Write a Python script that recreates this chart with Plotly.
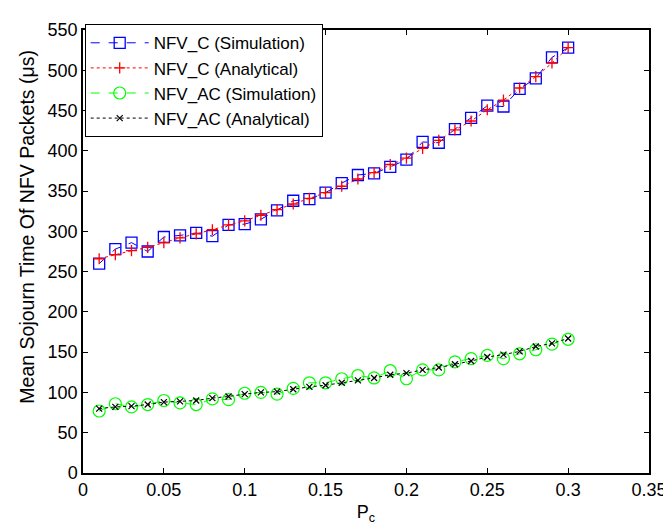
import plotly.graph_objects as go

pc = [0.01, 0.02, 0.03, 0.04, 0.05, 0.06, 0.07, 0.08, 0.09, 0.10,
      0.11, 0.12, 0.13, 0.14, 0.15, 0.16, 0.17, 0.18, 0.19, 0.20,
      0.21, 0.22, 0.23, 0.24, 0.25, 0.26, 0.27, 0.28, 0.29, 0.30]

nfv_c_sim = [260, 278, 286, 275, 293, 295, 298, 294, 308, 309,
             315, 326, 338, 340, 348, 360, 370, 372, 380, 389,
             411, 410, 427, 441, 456, 455, 477, 490, 516, 528]

nfv_c_ana = [266, 271, 276, 280, 286, 292, 297, 302, 308, 313,
             320, 327, 334, 341, 348, 356, 365, 373, 383, 391,
             403, 413, 426, 437, 451, 463, 478, 492, 509, 528]

nfv_ac_sim = [77, 86, 82, 85, 90, 87, 85, 92, 91, 99,
              100, 98, 105, 112, 112, 117, 121, 118, 127, 117,
              128, 128, 138, 142, 146, 142, 148, 153, 160, 166]

nfv_ac_ana = [80, 82, 83, 85, 88, 89, 90, 93, 95, 98,
              100, 101, 104, 107, 109, 112, 115, 118, 122, 124,
              128, 131, 135, 139, 144, 147, 151, 157, 161, 167]

x_ticks = [0, 0.05, 0.1, 0.15, 0.2, 0.25, 0.3, 0.35]
x_tick_labels = ["0", "0.05", "0.1", "0.15", "0.2", "0.25", "0.3", "0.35"]
y_ticks = [0, 50, 100, 150, 200, 250, 300, 350, 400, 450, 500, 550]

FONT = "Liberation Sans, Arial, Helvetica, sans-serif"

fig = go.Figure()
fig.add_trace(go.Scatter(
    x=pc, y=nfv_c_sim, name="NFV_C (Simulation)", mode="lines+markers",
    line=dict(color="#0000FF", width=1, dash="dash"),
    marker=dict(symbol="square-open", size=11, color="#0000FF",
                line=dict(width=1.3, color="#0000FF"))))
fig.add_trace(go.Scatter(
    x=pc, y=nfv_c_ana, name="NFV_C (Analytical)", mode="lines+markers",
    line=dict(color="#FF0000", width=1, dash="dot"),
    marker=dict(symbol="cross-thin-open", size=8,
                line=dict(width=1.3, color="#FF0000"))))
fig.add_trace(go.Scatter(
    x=pc, y=nfv_ac_sim, name="NFV_AC (Simulation)", mode="lines+markers",
    line=dict(color="#00FF00", width=1, dash="dash"),
    marker=dict(symbol="circle-open", size=12, color="#00FF00",
                line=dict(width=1.2, color="#00FF00"))))
fig.add_trace(go.Scatter(
    x=pc, y=nfv_ac_ana, name="NFV_AC (Analytical)", mode="lines+markers",
    line=dict(color="#000000", width=1, dash="dot"),
    marker=dict(symbol="x-thin-open", size=6,
                line=dict(width=1.2, color="#000000"))))

axis_common = dict(
    showline=True, linecolor="black", linewidth=1.5, mirror="ticks",
    ticks="inside", ticklen=5, tickwidth=1, tickcolor="black",
    showgrid=False, zeroline=False,
    tickfont=dict(family=FONT, size=18, color="black"),
)

fig.update_layout(
    width=671, height=523,
    margin=dict(l=75, r=18, t=17, b=50),
    paper_bgcolor="white", plot_bgcolor="white",
    font=dict(family=FONT, size=18, color="black"),
    showlegend=True,
    legend=dict(x=0.003, y=1.013, xanchor="left", yanchor="top",
                bordercolor="black", borderwidth=1, bgcolor="white",
                font=dict(family=FONT, size=17, color="black"),
                itemwidth=58, tracegroupgap=0),
    xaxis=dict(range=[0, 0.35], tickvals=x_ticks, ticktext=x_tick_labels,
               title=dict(text="P<sub>c</sub>", standoff=6,
                          font=dict(family=FONT, size=18)),
               **axis_common),
    yaxis=dict(range=[0, 550], tickvals=y_ticks, **axis_common),
    annotations=[dict(text="Mean Sojourn Time Of NFV Packets (\u03bcs)",
                      textangle=-90, xref="paper", yref="paper",
                      x=-0.098, y=0.555, xanchor="center", yanchor="middle",
                      showarrow=False,
                      font=dict(family=FONT, size=19.5, color="black"))],
)

fig.write_html("out.html")
